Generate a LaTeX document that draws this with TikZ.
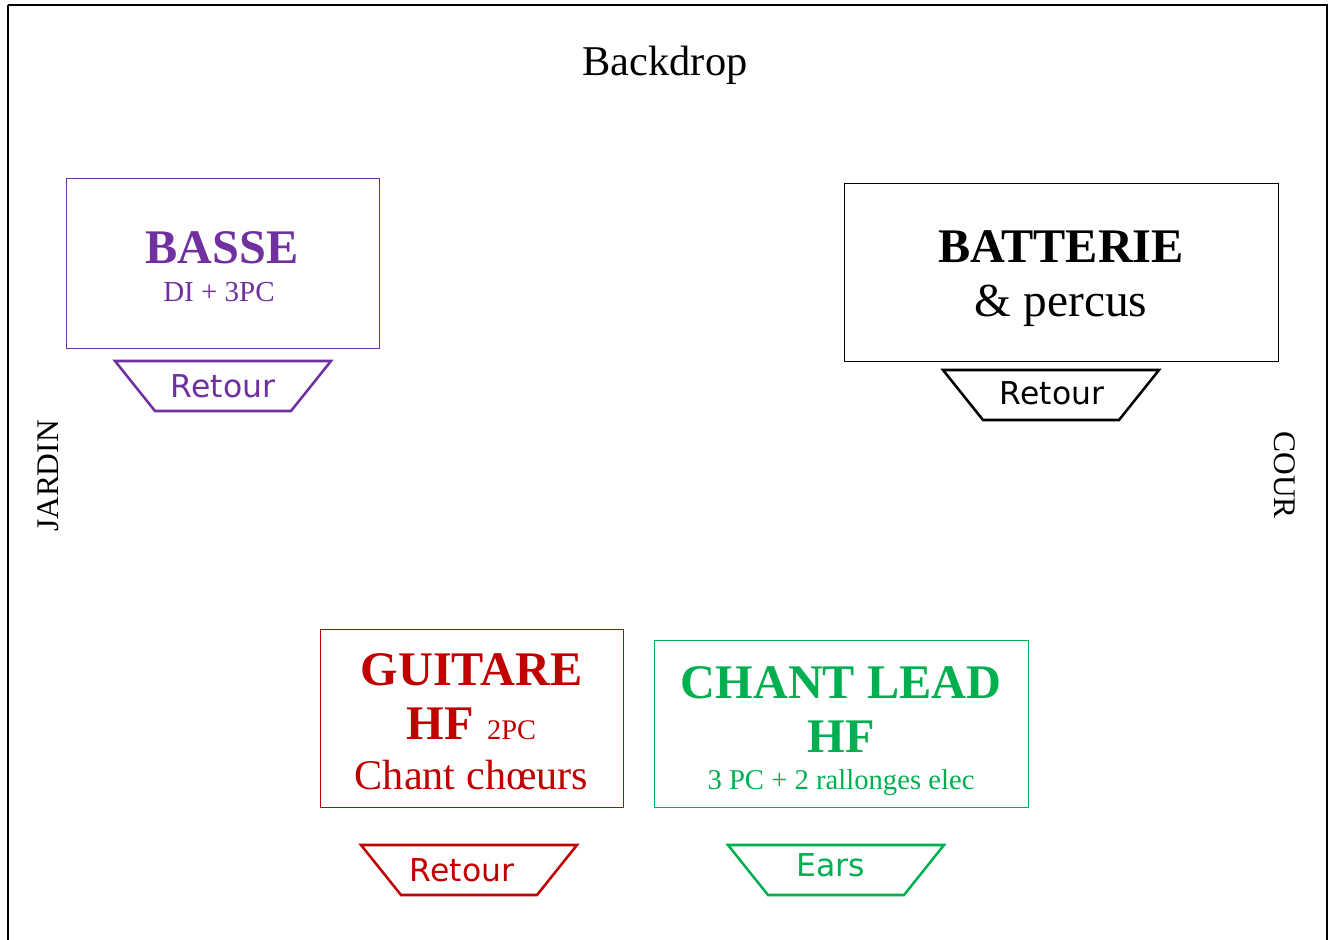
\documentclass[tikz,border=0pt]{standalone}
\usepackage{fontspec}
\setmainfont{Liberation Serif}
\newfontfamily\vsans{DejaVu Sans}
\definecolor{cpurple}{HTML}{7030A0}
\definecolor{cred}{HTML}{C00000}
\definecolor{cgreen}{HTML}{00B050}
\newcommand\mybigbold{\fontsize{36.2}{40}\selectfont\bfseries}
\newcommand\mybigreg{\fontsize{35.5}{40}\selectfont}
\newcommand\trapz[4]{% color, cx, ytop, name
  \draw[#1,line width=1.9pt,line join=miter] (#2-108,#3) coordinate (#4a) -- (#2+108,#3) -- (#2+68,#3+50) -- (#2-68,#3+50) -- cycle;}
\begin{document}
\begin{tikzpicture}[x=0.75pt,y=-0.75pt,
  box/.style={draw,line width=0.8pt,inner sep=0pt,anchor=north west},
  lbl/.style={inner sep=0pt,anchor=base},
  rt/.style={inner sep=0pt,anchor=base,font=\vsans\fontsize{23.6}{28}\selectfont}]
\useasboundingbox (0,0) rectangle (1330,939);
\clip (0,0) rectangle (1330,939);
\fill[white] (0,0) rectangle (1330,939);
\draw[line width=1.5pt] (8,5) -- (8,960) (8,5) -- (1327,5) -- (1327,960);
\node[lbl,font=\fontsize{31.8}{36}\selectfont] (backdrop) at (665,75) {Backdrop};
% BASSE
\node[box,cpurple,minimum width=313*0.75pt,minimum height=170*0.75pt] (basse) at (66,178) {};
\node[lbl,cpurple,font=\mybigbold] (basset) at (222,263) {BASSE};
\node[lbl,cpurple,font=\fontsize{21.75}{26}\selectfont] (bassed) at (219,301) {DI + 3PC};
\trapz{cpurple}{223}{361}{tb}
\node[rt,cpurple] (retb) at (223,397) {Retour};
% BATTERIE
\node[box,black,minimum width=434*0.75pt,minimum height=178*0.75pt] (batt) at (844,183) {};
\node[lbl,font=\mybigbold] (battt) at (1061,262) {BATTERIE};
\node[lbl,font=\mybigreg] (battp) at (1061,316) {\& percus};
\trapz{black}{1051}{370}{tk}
\node[rt] (retk) at (1052,404) {Retour};
% sides
\node[inner sep=0pt,rotate=90,font=\fontsize{23.6}{28}\selectfont] (jardin) at (48,476) {JARDIN};
\node[inner sep=0pt,rotate=-90,font=\fontsize{23.6}{28}\selectfont] (cour) at (1285,475) {COUR};
% GUITARE
\node[box,cred,minimum width=303*0.75pt,minimum height=178*0.75pt] (guit) at (320,629) {};
\node[lbl,cred,font=\mybigbold] (guitt) at (471.5,685) {GUITARE};
\node[lbl,cred] (guith) at (471.5,739) {{\mybigbold HF\hspace{10pt}}{\fontsize{21.3}{26}\selectfont 2PC}};
\node[lbl,cred,font=\fontsize{31.7}{36}\selectfont] (guitc) at (471.5,789) {Chant chœurs};
\trapz{cred}{469}{845}{tr}
\node[rt,cred] (retr) at (462,881) {Retour};
% CHANT LEAD
\node[box,cgreen,minimum width=374*0.75pt,minimum height=167*0.75pt] (chant) at (654,640) {};
\node[lbl,cgreen,font=\mybigbold] (chantt) at (841,698) {CHANT LEAD};
\node[lbl,cgreen,font=\mybigbold] (chanth) at (841,752) {HF};
\node[lbl,cgreen,font=\fontsize{21.5}{26}\selectfont] (chantr) at (841,789) {3 PC + 2 rallonges elec};
\trapz{cgreen}{836}{845}{tg}
\node[rt,cgreen] (ears) at (831,876) {Ears};
\end{tikzpicture}
\end{document}
